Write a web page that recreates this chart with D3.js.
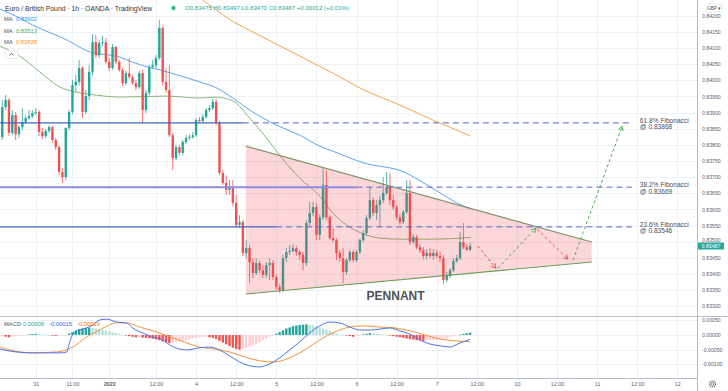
<!DOCTYPE html>
<html><head><meta charset="utf-8">
<script src="https://cdn.jsdelivr.net/npm/d3@7/dist/d3.min.js"></script>
<style>
html,body{margin:0;padding:0;background:#fff;}
svg{display:block;font-family:"Liberation Sans",Arial,sans-serif;}
</style></head><body>
<svg id="c" width="728" height="391"></svg>
<script>
// ---------------- DATA ----------------
const candleStart = -58; // hourly candle index, 0 = Jan 4 00:00
const opens = [.83824,.83917,.83939,.83837,.83892,.83833,.83855,.83871,.83883,.83889,.83899,.83902,.83840,.83827,.83843,.83855,.83815,.83793,.83716,.83700,
.83852,.83902,.83985,.83995,.84038,.83902,.83951,.84026,.84118,.84078,.84115,.84118,.84057,.84038,.84103,.84057,.84032,.83991,.84022,.84010,
.83991,.83979,.84022,.83908,.83961,.84041,.84047,.84069,.84162,.83995,.83970,.83830,.83759,.83793,.83775,.83809,.83821,.83824,.83830,.83877,
.83874,.83886,.83908,.83914,.83933,.83868,.83713,.83682,.83660,.83666,.83620,.83552,.83561,.83465,.83480,.83437,.83403,.83434,.83412,.83397,
.83428,.83434,.83391,.83360,.83350,.83449,.83468,.83471,.83480,.83468,.83459,.83434,.83558,.83589,.83607,.83521,.83576,.83676,.83576,.83511,
.83505,.83465,.83449,.83406,.83443,.83468,.83443,.83468,.83505,.83527,.83573,.83629,.83589,.83614,.83629,.83651,.83669,.83629,.83607,.83576,
.83561,.83592,.83651,.83499,.83514,.83483,.83474,.83456,.83465,.83456,.83465,.83456,.83449,.83381,.83394,.83412,.83440,.83449,.83499,.83483,.83475];
const highs = [.83939,.83954,.83945,.83908,.83902,.83861,.83914,.83892,.83908,.83908,.83914,.83908,.83852,.83849,.83861,.83858,.83821,.83799,.83728,.83855,
.83908,.84001,.84016,.84063,.84044,.83970,.84047,.84143,.84140,.84125,.84137,.84131,.84069,.84112,.84106,.84063,.84038,.84029,.84069,.84016,
.84001,.84029,.84032,.83970,.84047,.84063,.84078,.84187,.84168,.84038,.84047,.83837,.83799,.83799,.83815,.83830,.83833,.83840,.83883,.83886,
.83895,.83914,.83923,.83942,.83942,.83874,.83722,.83706,.83691,.83691,.83645,.83582,.83567,.83505,.83490,.83449,.83449,.83443,.83425,.83437,
.83449,.83443,.83400,.83369,.83459,.83480,.83490,.83493,.83487,.83474,.83468,.83567,.83623,.83623,.83620,.83586,.83728,.83722,.83582,.83542,
.83511,.83474,.83480,.83449,.83474,.83474,.83474,.83511,.83536,.83582,.83669,.83638,.83629,.83641,.83700,.83716,.83713,.83645,.83614,.83586,
.83598,.83691,.83691,.83524,.83521,.83493,.83483,.83477,.83480,.83477,.83474,.83468,.83459,.83406,.83418,.83449,.83459,.83530,.83558,.83493,.83497];
const lows = [.83815,.83908,.83827,.83830,.83815,.83821,.83846,.83864,.83877,.83883,.83892,.83827,.83818,.83821,.83837,.83806,.83784,.83706,.83682,.83691,
.83846,.83895,.83964,.83985,.83883,.83895,.83939,.84016,.84069,.84069,.84106,.84050,.84029,.84032,.84050,.84026,.83982,.83985,.84004,.83985,
.83970,.83973,.83868,.83899,.83954,.84035,.84038,.84063,.83985,.83961,.83824,.83722,.83753,.83765,.83768,.83802,.83815,.83818,.83824,.83868,
.83868,.83880,.83902,.83908,.83861,.83706,.83676,.83645,.83645,.83610,.83542,.83542,.83456,.83449,.83372,.83387,.83397,.83403,.83387,.83387,
.83381,.83381,.83350,.83341,.83344,.83437,.83459,.83468,.83456,.83443,.83412,.83425,.83549,.83579,.83505,.83505,.83567,.83567,.83505,.83499,
.83443,.83437,.83372,.83397,.83437,.83437,.83437,.83462,.83499,.83521,.83567,.83579,.83567,.83545,.83620,.83645,.83614,.83598,.83567,.83552,
.83555,.83586,.83490,.83493,.83477,.83465,.83446,.83446,.83449,.83443,.83449,.83437,.83369,.83375,.83387,.83406,.83434,.83443,.83477,.83471,.83470];
const closes = [.83917,.83939,.83837,.83892,.83833,.83855,.83871,.83883,.83889,.83899,.83902,.83840,.83827,.83843,.83855,.83815,.83793,.83716,.83700,.83852,
.83902,.83985,.83995,.84038,.83902,.83951,.84026,.84118,.84078,.84115,.84118,.84057,.84038,.84103,.84057,.84032,.83991,.84022,.84010,.83991,
.83979,.84022,.83908,.83961,.84041,.84047,.84069,.84162,.83995,.83970,.83830,.83759,.83793,.83775,.83809,.83821,.83824,.83830,.83877,.83874,
.83886,.83908,.83914,.83933,.83868,.83713,.83682,.83660,.83666,.83620,.83552,.83561,.83465,.83480,.83437,.83403,.83434,.83412,.83397,.83428,
.83434,.83391,.83360,.83350,.83449,.83468,.83471,.83480,.83468,.83459,.83434,.83558,.83589,.83607,.83521,.83576,.83676,.83576,.83511,.83505,
.83465,.83449,.83406,.83443,.83468,.83443,.83468,.83505,.83527,.83573,.83629,.83589,.83614,.83629,.83651,.83669,.83629,.83607,.83576,.83561,
.83592,.83651,.83499,.83514,.83483,.83474,.83456,.83465,.83456,.83465,.83456,.83449,.83381,.83394,.83412,.83440,.83449,.83499,.83483,.83475,.83487];

// moving averages (read at sample times)
const maBlueT = [-58.8,-52.8,-48.9,-38.7,-31.9,-22.9,-19,-8.8,1.1,6.2,11,16,24.1,31,37,41,50.2,62.2,70.2,80.1,82.2];
const maBlueV = [.84221,.84193,.84171,.84125,.84088,.84072,.84056,.84026,.83995,.83976,.83945,.83908,.83861,.83830,.83796,.83780,.83744,.83716,.83669,.83610,.83602];
const maGreenT = [-58.8,-52.8,-46.8,-40.8,-36.3,-31.9,-22.9,-8.8,1.1,5.6,11,16,21.1,25.9,31,37,40.9,46,50.2,55,61,70.2,82.2];
const maGreenV = [.84106,.84075,.84026,.83979,.83964,.83957,.83948,.83951,.83945,.83948,.83936,.83883,.83821,.83756,.83697,.83641,.83589,.83545,.83524,.83511,.83508,.83508,.83513];
const maOrangeT = [1.5,5.5,10.1,16,23.5,31,40.9,50.2,60.1,70.2,82.2];
const maOrangeV = [.84252,.84222,.84188,.84155,.84115,.84075,.84022,.83970,.83927,.83880,.83827];

// MACD
const macdT = [-58.8,-53.8,-48.9,-43.8,-40.8,-38.7,-37.9,-37,-34.8,-32.8,-30.9,-28.9,-26.8,-23.8,-20.8,-19,-16,-13,-10,-7.9,-4.9,-2.8,1,4,7,10,13,16,19,22,25,28,31,34,37,40,43,46,49,52,55,58,61,64,67,70,73,76,79,82];
const macdV = [-.00048,-.00058,-.00061,-.00061,-.00061,-.00058,-.00027,0,.00017,.00024,.00034,.00051,.00054,.00044,.00041,.00024,.00007,-.00007,-.00017,-.00034,-.00048,-.00051,-.00044,-.00041,-.00051,-.00071,-.00092,-.00105,-.00109,-.00099,-.00078,-.00051,-.00024,.00007,.00031,.00044,.00041,.00027,.00017,.00017,.00020,.00024,.00014,.00003,-.00017,-.00031,-.00037,-.00041,-.00027,-.00015];
const signalT = [-58.8,-55.8,-48.9,-41.8,-36.9,-32.8,-28.9,-23.8,-20.8,-16.9,-10.9,-7,-2.8,1,5.5,10,14.5,19,23.5,28,32.5,37,41.5,46,50.5,55,59.5,64,68.5,73,77.5,82];
const signalV = [-.00041,-.00051,-.00061,-.00058,-.00041,-.00007,.00017,.00041,.00041,.00027,.00007,-.00010,-.00027,-.00041,-.00048,-.00058,-.00075,-.00088,-.00092,-.00078,-.00051,-.00017,.00010,.00027,.00031,.00027,.00024,.00014,0,-.00014,-.00020,-.00023];
const histV = [-.00004,-.00006,-.00008,-.00006,-.00004,-.00003,-.00002,-.00001,
.00002,.00003,.00004,.00003,.00002,.00001,0,
-.00002,-.00003,-.00003,-.00002,-.00001,
.00005,.00010,.00016,.00020,.00022,.00024,.00025,.00024,.00022,
.00020,.00018,.00015,.00012,.00009,.00006,.00003,.00001,
-.00002,-.00004,-.00006,-.00008,-.00008,-.00009,-.00010,-.00011,
-.00013,-.00015,-.00018,-.00022,-.00025,-.00028,-.00027,-.00025,-.00022,
-.00020,-.00018,-.00015,-.00012,-.00010,-.00008,-.00007,-.00006,
-.00008,-.00010,-.00014,-.00020,-.00026,-.00032,-.00038,-.00044,-.00048,-.00050,-.00048,-.00044,-.00040,
-.00036,-.00030,-.00024,-.00018,-.00012,-.00006,-.00002,.00004,.00010,.00016,
.00022,.00026,.00030,.00032,.00034,.00035,.00036,.00034,.00032,.00030,.00026,.00022,.00018,.00014,
.00010,.00006,.00002,0,-.00002,-.00004,-.00006,-.00004,-.00002,.00002,.00004,.00006,.00005,.00004,.00003,
.00002,0,-.00002,-.00004,-.00006,-.00008,-.00010,-.00012,-.00014,-.00016,-.00018,-.00019,-.00020,-.00020,-.00019,
-.00018,-.00016,-.00014,-.00012,-.00010,-.00008,-.00005,-.00002,.00001,.00004,.00006,.00008];

// axes
const priceTicks = [.842,.8415,.841,.8405,.84,.8395,.839,.8385,.838,.8375,.837,.8365,.836,.8355,.835,.8345,.834,.8335,.833];
const macdTicks = [.0005,0,-.0005,-.001];
const macdTickLabels = ["0.00050","0.00000","-0.00050","-0.00100"];
const timeTickIdx = [-48,-37,-26,-12,0,12,24,36,48,60,72,84,96,108,120,132,144];
const timeTickLabels = ["31","11:00","2022","12:00","4","12:00","5","12:00","6","12:00","7","12:00","10","12:00","11","12:00","12"];

// drawings
const fibValues = [.83868,.83669,.83546];
const fibLabels = ["61.8% Fibonacci","38.2% Fibonacci","23.6% Fibonacci"];
const fibSolidEnd = [14,48,24];
const fibDashEnd = 130.4;
const fibLabelT = 132.8;
const pennantT = [14.9,118.4,118.4,14.9];
const pennantP = [.83796,.83499,.83437,.83338];
const arrowFromT = [84.3,90.3,102,112.8];
const arrowFromP = [.83487,.83418,.83539,.83443];
const arrowToT = [89.7,101.7,111.3,127.5];
const arrowToP = [.83418,.83542,.83446,.83858];
const arrowKind = ["down","up","down","up"];
const pennantLabel = {text:"PENNANT", t:59.7, p:.83332};

const lastPrice = .83487;
const legendOHLC = "O0.83475 H0.83497 L0.83470 C0.83487 +0.00012 (+0.01%)";
const maLegend = ["0.83602","0.83513","0.83828"];
const macdLegend = ["0.00008","-0.00015","-0.00023"];

// ---------------- DRAW ----------------
const UP = "#26a69a", DOWN = "#ef5350";
const AXR = 697, MAIN_B = 316, MACD_B = 378;
const svg = d3.select("#c");
const x = d3.scaleLinear().domain([-48,144]).range([35.7,677.3]);
const y = d3.scaleLinear().domain([.833,.842]).range([306.3,15.7]);
const ym = d3.scaleLinear().domain([-.001,.0005]).range([364.3,320.3]);

const defs = svg.append("defs");
defs.append("clipPath").attr("id","cm").append("rect").attr("x",0).attr("y",0).attr("width",AXR).attr("height",MAIN_B);
defs.append("clipPath").attr("id","cd").append("rect").attr("x",0).attr("y",MAIN_B+0.5).attr("width",AXR).attr("height",MACD_B-MAIN_B-0.5);

// grid
const grid = svg.append("g").attr("stroke","#eef1f6").attr("stroke-width",1);
grid.selectAll("line.gv").data(timeTickIdx).join("line").attr("class","gv")
  .attr("x1",d=>Math.round(x(d))+0.5).attr("x2",d=>Math.round(x(d))+0.5).attr("y1",0).attr("y2",MACD_B);
grid.selectAll("line.gh").data(priceTicks).join("line").attr("class","gh")
  .attr("x1",0).attr("x2",AXR).attr("y1",d=>Math.round(y(d))+0.5).attr("y2",d=>Math.round(y(d))+0.5);
grid.selectAll("line.gm").data(macdTicks).join("line").attr("class","gm")
  .attr("x1",0).attr("x2",AXR).attr("y1",d=>Math.round(ym(d))+0.5).attr("y2",d=>Math.round(ym(d))+0.5);

const main = svg.append("g").attr("clip-path","url(#cm)");

// moving averages
const maLine = d3.line().x(d=>x(d[0])).y(d=>y(d[1])).curve(d3.curveMonotoneX);
[[maOrangeT,maOrangeV,"#f7a445"],[maBlueT,maBlueV,"#5aa6ec"],[maGreenT,maGreenV,"#86b878"]].forEach(([T,V,col])=>{
  main.append("path").datum(T.map((t,i)=>[t,V[i]])).attr("d",maLine).attr("fill","none").attr("stroke",col).attr("stroke-width",1);
});

// candles
const candles = closes.map((c,i)=>({t:candleStart+i,o:opens[i],h:highs[i],l:lows[i],c}));
const bw = (x(1)-x(0))*0.72;
main.selectAll("line.wick").data(candles).join("line").attr("class","wick")
  .attr("x1",d=>x(d.t)).attr("x2",d=>x(d.t)).attr("y1",d=>y(d.h)).attr("y2",d=>y(d.l))
  .attr("stroke",d=>d.c>=d.o?UP:DOWN).attr("stroke-width",0.8);
main.selectAll("rect.body").data(candles).join("rect").attr("class","body")
  .attr("x",d=>x(d.t)-bw/2).attr("width",bw)
  .attr("y",d=>y(Math.max(d.o,d.c))).attr("height",d=>Math.max(0.8,Math.abs(y(d.o)-y(d.c))))
  .attr("fill",d=>d.c>=d.o?UP:DOWN);

// pennant
const pts = pennantT.map((t,i)=>[x(t),y(pennantP[i])]);
main.append("polygon").attr("points",pts.map(p=>p.join(",")).join(" "))
  .attr("fill","rgba(242,54,69,0.2)").attr("stroke","none");
main.append("line").attr("x1",pts[0][0]).attr("y1",pts[0][1]).attr("x2",pts[1][0]).attr("y2",pts[1][1])
  .attr("stroke","#7d9366").attr("stroke-width",1.1);
main.append("line").attr("x1",pts[3][0]).attr("y1",pts[3][1]).attr("x2",pts[2][0]).attr("y2",pts[2][1])
  .attr("stroke","#6f9d5a").attr("stroke-width",1.1);

// fib lines
fibValues.forEach((v,i)=>{
  const yy = y(v);
  main.append("line").attr("x1",0).attr("x2",x(fibSolidEnd[i])).attr("y1",yy).attr("y2",yy)
    .attr("stroke", i===1?"#8f8be3":"#3e64c8").attr("stroke-width", i===1?2:1.3);
  main.append("line").attr("x1",x(fibSolidEnd[i])).attr("x2",x(fibDashEnd)).attr("y1",yy).attr("y2",yy)
    .attr("stroke","#5566d2").attr("stroke-width",1).attr("stroke-dasharray","6,4");
  const tx = main.append("text").attr("x",x(fibLabelT)).attr("font-size",6.6).attr("fill","#4e5058");
  tx.append("tspan").attr("x",x(fibLabelT)).attr("y",yy-0.3).text(fibLabels[i]);
  tx.append("tspan").attr("x",x(fibLabelT)).attr("y",yy+6.6).text("@ " + v.toFixed(5));
});

// arrows
arrowKind.forEach((k,i)=>{
  const x1=x(arrowFromT[i]), y1=y(arrowFromP[i]), x2=x(arrowToT[i]), y2=y(arrowToP[i]);
  const col = k==="up" ? "#4caf50" : "#e5534b";
  main.append("line").attr("x1",x1).attr("y1",y1).attr("x2",x2).attr("y2",y2)
    .attr("stroke",col).attr("stroke-width",1).attr("stroke-dasharray","3,2.5");
  const ang = Math.atan2(y1-y2,x1-x2), L=5, a=0.5;
  const p1=[x2+L*Math.cos(ang+a), y2+L*Math.sin(ang+a)], p2=[x2+L*Math.cos(ang-a), y2+L*Math.sin(ang-a)];
  main.append("path").attr("d",`M${p1}L${x2},${y2}L${p2}`).attr("fill","none").attr("stroke",col).attr("stroke-width",1);
});

// pennant label
main.append("text").attr("x",x(pennantLabel.t)).attr("y",y(pennantLabel.p)).attr("dy","0.36em")
  .attr("text-anchor","middle").attr("font-size",12).attr("font-weight","bold").attr("fill","#505356")
  .text(pennantLabel.text);

// MACD pane
const md = svg.append("g").attr("clip-path","url(#cd)");
const hist = histV.map((v,i)=>({t:candleStart+i,v,p:i>0?histV[i-1]:v}));
md.selectAll("rect.h").data(hist).join("rect").attr("class","h")
  .attr("x",d=>x(d.t)-bw/2).attr("width",bw)
  .attr("y",d=>Math.min(ym(d.v),ym(0))).attr("height",d=>Math.max(0.6,Math.abs(ym(d.v)-ym(0))))
  .attr("fill",d=>d.v>=0 ? (d.v>=d.p?"#26a69a":"#b2dfdb") : (d.v<d.p?"#ef5350":"#ffcdd2"));
const ml = d3.line().x(d=>x(d[0])).y(d=>ym(d[1])).curve(d3.curveMonotoneX);
md.append("path").datum(signalT.map((t,i)=>[t,signalV[i]])).attr("d",ml).attr("fill","none").attr("stroke","#f5913a").attr("stroke-width",1);
md.append("path").datum(macdT.map((t,i)=>[t,macdV[i]])).attr("d",ml).attr("fill","none").attr("stroke","#4a74e8").attr("stroke-width",1);

// separators
svg.append("line").attr("x1",0).attr("x2",728).attr("y1",MAIN_B+0.5).attr("y2",MAIN_B+0.5).attr("stroke","#b8bcc6");
svg.append("line").attr("x1",0).attr("x2",AXR).attr("y1",MACD_B+0.5).attr("y2",MACD_B+0.5).attr("stroke","#b8bcc6");
svg.append("line").attr("x1",AXR+0.5).attr("x2",AXR+0.5).attr("y1",0).attr("y2",391).attr("stroke","#b8bcc6");

// price axis
const pa = svg.append("g").attr("transform",`translate(${AXR},0)`)
  .call(d3.axisRight(y).tickValues(priceTicks).tickFormat(d3.format(".5f")).tickSize(0).tickPadding(5));
pa.select(".domain").remove();
pa.selectAll("text").attr("font-size",5.2).attr("fill","#5d606b").attr("font-family","Liberation Sans, Arial, sans-serif");
// the tick nearest the last-price badge sits just above it
pa.selectAll(".tick").filter(d=>Math.abs(y(d)-y(lastPrice))<7).select("text").attr("dy","-0.05em");
const ma = svg.append("g").attr("transform",`translate(${AXR},0)`)
  .call(d3.axisRight(ym).tickValues(macdTicks).tickFormat((d,i)=>macdTickLabels[i]).tickSize(0).tickPadding(5));
ma.select(".domain").remove();
ma.selectAll("text").attr("font-size",5.2).attr("fill","#5d606b").attr("font-family","Liberation Sans, Arial, sans-serif");

// last price label
svg.append("rect").attr("x",AXR+1).attr("y",y(lastPrice)-3.3).attr("width",26).attr("height",6.8).attr("fill",UP).attr("rx",0.5);
svg.append("text").attr("x",AXR+14).attr("y",y(lastPrice)).attr("dy","0.36em").attr("text-anchor","middle")
  .attr("font-size",5.2).attr("fill","#fff").text(lastPrice.toFixed(5));

// time axis
const ta = svg.append("g").attr("transform",`translate(0,${MACD_B})`)
  .call(d3.axisBottom(x).tickValues(timeTickIdx).tickFormat((d,i)=>timeTickLabels[i]).tickSize(0).tickPadding(4.5));
ta.select(".domain").remove();
ta.selectAll("text").attr("font-size",5.4).attr("fill","#5d606b").attr("font-family","Liberation Sans, Arial, sans-serif")
  .attr("font-weight",(d,i)=>timeTickLabels[i]==="2022"?"bold":"normal");

// header legend
svg.append("text").attr("x",5).attr("y",10.6).attr("font-size",6.8).attr("fill","#333").text("Euro / British Pound · 1h · OANDA · TradingView");
svg.append("circle").attr("cx",173.5).attr("cy",8).attr("r",3.2).attr("fill","#cdeee9");
svg.append("circle").attr("cx",173.5).attr("cy",8).attr("r",1.8).attr("fill",UP);
svg.append("text").attr("x",185).attr("y",10.3).attr("font-size",6.1).attr("fill",UP).text(legendOHLC);
const maCols = ["#2196f3","#4caf50","#ff9800"];
maLegend.forEach((v,i)=>{
  const t = svg.append("text").attr("x",4).attr("y",21.2+i*11.5).attr("font-size",5.8);
  t.append("tspan").attr("fill","#555").text("MA");
  t.append("tspan").attr("x",16).attr("fill",maCols[i]).text(v);
});
svg.append("rect").attr("x",5).attr("y",50).attr("width",13).attr("height",8.5).attr("rx",1.5).attr("fill","#fff").attr("stroke","#e0e3eb").attr("stroke-width",0.8);
svg.append("path").attr("d","M9.5,55.5L11.5,53.2L13.5,55.5").attr("fill","none").attr("stroke","#444").attr("stroke-width",0.8);

// MACD legend
const mt = svg.append("text").attr("x",4).attr("y",326).attr("font-size",5.8);
mt.append("tspan").attr("fill","#555").text("MACD");
mt.append("tspan").attr("x",23).attr("fill","#26a69a").text(macdLegend[0]);
mt.append("tspan").attr("x",49).attr("fill","#2962ff").text(macdLegend[1]);
mt.append("tspan").attr("x",77).attr("fill","#ff6d00").text(macdLegend[2]);

// GBP button & gear
svg.append("rect").attr("x",706.5).attr("y",4).attr("width",15.5).attr("height",8).attr("rx",1).attr("fill","#fff").attr("stroke","#d6d8de").attr("stroke-width",0.6);
svg.append("text").attr("x",714.2).attr("y",9.8).attr("text-anchor","middle").attr("font-size",4.6).attr("fill","#555").text("GBP ▾");
svg.append("circle").attr("cx",712.5).attr("cy",384).attr("r",3).attr("fill","none").attr("stroke","#555").attr("stroke-width",1.2).attr("stroke-dasharray","1.2,0.9");
svg.append("circle").attr("cx",712.5).attr("cy",384).attr("r",1.3).attr("fill","none").attr("stroke","#555").attr("stroke-width",0.7);
</script>
</body></html>
